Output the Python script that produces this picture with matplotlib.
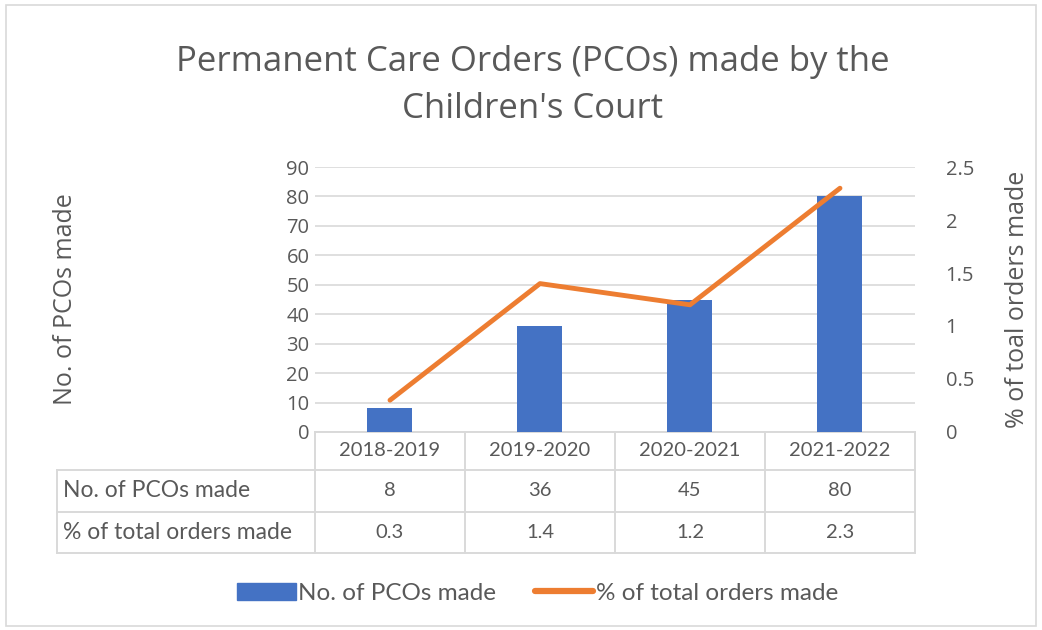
import matplotlib.pyplot as plt
from matplotlib.patches import Rectangle
from matplotlib.lines import Line2D
import matplotlib.transforms as mtransforms

years = ['2018-2019', '2019-2020', '2020-2021', '2021-2022']
pco_counts = [8, 36, 45, 80]
pct_orders = [0.3, 1.4, 1.2, 2.3]
row_labels = ['No. of PCOs made', '% of total orders made']

BLUE = '#4472C4'
ORANGE = '#ED7D31'
TEXT = '#595959'
GRID = '#D9D9D9'
TITLE_FONT = 'Open Sans'
BODY_FONT = 'Lato'

fig = plt.figure(figsize=(10.42, 6.3), dpi=100)
ax = fig.add_axes([0.3023, 0.3143, 0.5758, 0.4206])
ax2 = ax.twinx()

x = list(range(len(years)))
ax.bar(x, pco_counts, width=0.3, color=BLUE, zorder=3)
ax2.plot(x, pct_orders, color=ORANGE, lw=3.5, solid_capstyle='round', zorder=4)

ax.set_xlim(-0.5, len(years) - 0.5)
ax.set_ylim(0, 90)
ax.set_yticks(range(0, 91, 10))
ax2.set_ylim(0, 2.5)
ax2.set_yticks([0, 0.5, 1, 1.5, 2, 2.5])
ax2.set_yticklabels(['0', '0.5', '1', '1.5', '2', '2.5'])

ax.grid(axis='y', color=GRID, lw=1.2, zorder=0)
for a in (ax, ax2):
    for s in a.spines.values():
        s.set_visible(False)
    a.tick_params(length=0, labelsize=14.5, labelcolor=TEXT)
    for lab in a.get_yticklabels():
        lab.set_fontfamily(TITLE_FONT)
ax.tick_params(pad=4)
ax2.tick_params(pad=22)
ax.set_xticks([])

ax.set_ylabel('No. of PCOs made', fontsize=18, color=TEXT, family=TITLE_FONT, labelpad=0)
ax.yaxis.set_label_coords(-0.395, 0.5)
ax2.set_ylabel('% of toal orders made', fontsize=18, color=TEXT, family=TITLE_FONT, rotation=90)
ax2.yaxis.set_label_coords(1.15, 0.5)

fig.text(0.511, 0.865, "Permanent Care Orders (PCOs) made by the\nChildren's Court",
         ha='center', va='center', fontsize=25, color=TEXT, family=TITLE_FONT,
         linespacing=1.5)

# data table below the axes
trans = mtransforms.blended_transform_factory(ax.transData, ax.transAxes)
row_h = [0.143, 0.158, 0.155]
bounds = [0]
for h in row_h:
    bounds.append(bounds[-1] - h)
left_edge = -2.22
col_edges = [i - 0.5 for i in range(len(years) + 1)]
line_kw = dict(color=GRID, lw=1.4, clip_on=False, transform=trans)

for i, yb in enumerate(bounds):
    x0 = col_edges[0] if i == 0 else left_edge
    ax.add_line(Line2D([x0, col_edges[-1]], [yb, yb], **line_kw))
for ce in col_edges:
    ax.add_line(Line2D([ce, ce], [bounds[0], bounds[-1]], **line_kw))
ax.add_line(Line2D([left_edge, left_edge], [bounds[1], bounds[-1]], **line_kw))

rows = [years, [str(v) for v in pco_counts], [str(v) for v in pct_orders]]
for r, vals in enumerate(rows):
    yc = (bounds[r] + bounds[r + 1]) / 2
    for i, v in enumerate(vals):
        ax.text(i, yc, v, ha='center', va='center', fontsize=14.5, color=TEXT,
                family=BODY_FONT, transform=trans, clip_on=False)
    if r > 0:
        ax.text(left_edge + 0.04, yc, row_labels[r - 1], ha='left', va='center',
                fontsize=16.5, color=TEXT, family=BODY_FONT, transform=trans)

handles = [Rectangle((0, 0), 1, 1, color=BLUE),
           Line2D([0], [0], color=ORANGE, lw=4.5, solid_capstyle='round')]
fig.legend(handles, row_labels, loc='center', bbox_to_anchor=(0.516, 0.058), ncol=2,
           frameon=False, prop={'family': BODY_FONT, 'size': 17.5}, labelcolor=TEXT,
           handlelength=2.4, handletextpad=0.1, columnspacing=1.6)

fig.add_artist(Rectangle((0.006, 0.006), 0.988, 0.986, transform=fig.transFigure,
                         fill=False, edgecolor=GRID, lw=1.2))

fig.savefig('out.png', dpi=100)
